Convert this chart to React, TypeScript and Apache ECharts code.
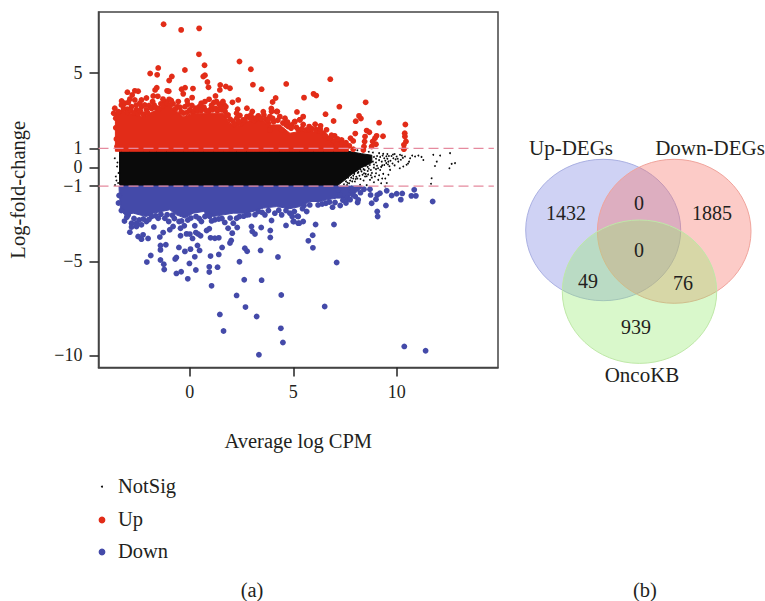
import React, { useEffect, useRef } from "react";
import * as echarts from "echarts";

const FONT = "'Liberation Serif', serif";
const INK = "#231f20";
const RED = "#e22c18";
const BLUE = "#444aa9";
const BLACK = "#0a0a0a";

const xTicks = [0, 5, 10];
const yTicks = [-10, -5, -1, 0, 1, 5];
const thresholds = [1, -1];
const legendNames = ["NotSig", "Up", "Down"];

// dense mass outlines: [averageLogCpm, upper, lower]
const upMass = [
  [-3.6, 2.9, 0.85], [-3.31, 3.05, 0.85], [-2.9, 2.87, 0.85], [-2.26, 2.69, 0.85], [-1.94, 2.87, 0.85],
  [-1.61, 3.05, 0.85], [-1.13, 3.31, 0.85], [-0.81, 3.14, 0.85], [-0.32, 2.69, 0.85], [0.16, 2.87, 0.85],
  [0.65, 2.87, 0.85], [1.13, 2.87, 0.85], [1.61, 2.87, 0.85], [1.94, 2.34, 0.85], [2.26, 2.16, 0.85],
  [2.74, 2.43, 0.85], [3.39, 2.6, 0.85], [3.87, 2.25, 0.85], [4.35, 2.25, 0.85], [4.84, 1.81, 0.85],
  [5.32, 1.9, 0.85], [5.97, 1.9, 0.85], [6.45, 1.77, 0.85], [6.94, 1.54, 0.85], [7.5, 1.28, 0.85],
  [7.66, 1.01, 0.85],
];
const notSigMass = [
  [-3.4, 0.9, -0.92], [-3.3, 0.95, -1], [7.1, 0.95, -1], [7.35, 0.9, -0.8], [7.8, 0.82, -0.4],
  [8.3, 0.72, -0.02], [8.8, 0.64, 0.25],
];
const downMass = [
  [-3.42, -1.0, -1.2], [-3.35, -1.0, -2.26], [-3.15, -1.0, -2.53], [-2.74, -1.0, -2.44], [-2.1, -1.0, -2.62],
  [-1.77, -1.0, -2.44], [-0.97, -1.0, -2.26], [-0.65, -1.0, -2.53], [-0.24, -1.0, -2.7], [0.16, -1.0, -2.44],
  [0.65, -1.0, -2.35], [1.13, -1.0, -2.62], [1.61, -1.0, -2.53], [2.1, -1.0, -2.44], [2.58, -1.0, -2.44],
  [3.06, -1.0, -2.35], [3.55, -1.0, -2.17], [4.19, -1.0, -2.09], [4.84, -1.0, -2.2], [5.32, -1.0, -2.09],
  [5.81, -1.0, -1.82], [6.29, -1.0, -1.82], [6.61, -1.0, -1.73], [7.1, -1.0, -1.64], [7.58, -1.0, -1.64],
  [7.98, -1.0, -1.38], [8.31, -1.0, -1.1],
];

const upPoints = [
  [-1.27, 7.6], [-0.42, 7.3], [0.45, 7.38], [0.44, 6.0], [0.71, 5.42], [2.4, 5.62], [2.95, 5.21], [-1.53, 5.28],
  [-1.92, 4.98], [-1.58, 4.91], [-0.24, 5.17], [0.73, 4.89], [0.65, 4.82], [-0.87, 4.82], [-1.0, 4.61], [0.85, 4.53],
  [0.9, 4.25], [3.05, 4.39], [3.47, 4.15], [4.66, 4.43], [1.47, 4.37], [1.45, 4.11], [1.74, 4.29], [1.94, 4.2],
  [-1.6, 4.23], [-1.68, 4.11], [-1.1, 4.06], [-1.02, 4.04], [-0.23, 4.23], [-0.4, 4.15], [-0.32, 3.9], [0.15, 4.18],
  [-3.02, 3.99], [-2.79, 3.84], [-2.66, 4.06], [-2.5, 4.04], [-1.77, 3.79], [-1.55, 3.77], [-2.1, 3.68], [-2.34, 3.58],
  [-2.66, 3.58], [-2.42, 3.4], [-1.0, 3.61], [0.11, 3.7], [-0.13, 3.54], [0.93, 3.61], [0.73, 3.49], [1.24, 3.79],
  [1.29, 3.49], [2.34, 3.58], [2.06, 3.45], [4.15, 3.68], [4.0, 3.47], [2.76, 3.14], [3.02, 2.96], [3.94, 3.12],
  [4.19, 2.96], [5.18, 2.94], [6.79, 4.68], [5.52, 3.7], [5.98, 3.9], [6.11, 3.81], [7.23, 3.22], [8.5, 3.45],
  [6.56, 2.82], [5.48, 2.69], [5.32, 2.52], [5.06, 2.41], [5.48, 2.27], [6.95, 2.46], [8.18, 2.73], [8.27, 2.59],
  [8.02, 2.45], [9.15, 2.37], [10.42, 2.27], [10.39, 1.81], [10.4, 1.63], [10.45, 1.37], [10.35, 1.19], [10.35, 0.96],
  [8.55, 1.95], [8.68, 1.86], [9.03, 1.67], [9.34, 1.65], [8.95, 1.54], [8.47, 1.63], [8.45, 1.37], [8.42, 1.1],
  [8.39, 0.92], [8.0, 1.79], [7.77, 1.54], [7.9, 1.4], [7.71, 1.14], [7.9, 0.96], [8.84, 1.37], [9.0, 1.22], [8.79, 1.1],
  [-3.63, 3.14], [-3.68, 2.87], [-3.58, 2.61], [-3.31, 3.31], [-3.15, 3.4], [-2.98, 3.44], [-2.82, 3.22],
  [-3.03, 3.08], [-2.58, 3.05], [-2.34, 3.22], [-2.18, 3.31], [-1.97, 3.28], [-1.73, 3.31], [-1.4, 3.37], [-1.21, 3.49],
  [-0.81, 3.37], [-0.56, 3.49], [-0.48, 3.19], [-0.24, 3.22], [0.0, 3.05], [0.29, 3.14], [0.45, 3.22], [0.68, 3.19],
  [1.02, 3.1], [1.16, 3.44], [1.42, 3.35], [1.66, 3.31], [1.74, 3.22], [1.53, 3.05], [1.85, 2.78], [2.31, 3.08],
  [2.26, 2.87], [2.27, 2.61], [2.26, 2.3], [2.5, 2.34], [2.76, 2.69], [3.06, 2.61], [3.31, 2.73], [3.58, 2.78],
  [3.87, 2.69], [3.95, 2.96], [4.23, 2.96], [4.35, 2.69], [4.6, 2.61], [3.79, 2.34], [3.87, 1.98], [4.76, 2.16],
  [5.08, 2.43], [5.32, 2.52], [4.44, 1.98], [5.77, 2.16], [6.06, 2.29], [6.32, 2.2], [6.61, 1.99], [6.19, 1.95],
  [6.45, 1.81], [6.77, 1.54], [7.0, 1.67], [7.0, 1.37], [7.34, 1.45], [7.26, 1.1], [7.42, 1.28], [6.69, 1.28],
  [7.1, 1.19], [4.92, 2.25], [5.24, 1.99], [-3.55, 1.5], [-3.52, 1.1], [-3.58, 2.1],
  [-3.45, 2.95], [-3.2, 3.12], [-3.0, 2.92], [-2.85, 3.02], [-2.7, 2.88], [-2.5, 2.85], [-2.4, 3.0], [-2.25, 2.82],
  [-2.1, 3.05], [-2.05, 2.9], [-1.85, 3.12], [-1.65, 3.18], [-1.5, 3.12], [-1.3, 3.28], [-1.1, 3.4], [-0.95, 3.3],
  [-0.7, 3.1], [-0.6, 3.22], [-0.42, 2.95], [-0.3, 2.88], [-0.12, 2.92], [0.08, 2.98], [0.2, 2.98], [0.38, 3.0],
  [0.55, 3.02], [0.8, 3.0], [0.92, 2.98], [1.1, 3.05], [1.25, 3.12], [1.33, 3.0], [1.48, 3.2], [1.7, 2.98],
  [1.78, 2.75], [1.95, 2.55], [2.08, 2.45], [2.15, 2.28], [2.38, 2.42], [2.58, 2.52], [2.66, 2.5], [2.9, 2.62],
  [3.12, 2.48], [3.22, 2.62], [3.45, 2.58], [3.68, 2.55], [3.78, 2.5], [4.05, 2.42], [4.25, 2.5], [4.5, 2.35],
  [4.66, 2.25], [4.9, 2.08], [5.15, 2.12], [5.42, 2.05], [5.62, 1.98], [5.9, 2.05], [6.1, 2.0], [6.3, 1.92],
  [6.55, 1.68], [6.85, 1.7], [7.15, 1.5], [7.35, 1.22], [7.52, 1.08], [7.55, 1.3], [6.3, 2.05], [5.75, 2.02],
  [4.0, 2.6], [4.72, 2.4], [3.55, 2.95], [2.95, 2.78], [2.42, 2.75], [1.05, 3.3], [0.1, 3.28], [-0.9, 3.55],
  [-1.8, 3.5], [-2.6, 3.3], [-3.3, 3.52], [-2.9, 3.62], [-1.3, 3.62], [-0.1, 3.35], [0.55, 3.4], [1.6, 3.5],
];

const downPoints = [
  [-3.16, -2.86], [-2.9, -3.45], [-1.74, -3.17], [-2.5, -3.68], [-2.34, -3.82], [-2.26, -3.59], [-2.02, -3.78],
  [-1.45, -3.71], [-1.29, -3.47], [-1.16, -4.12], [-1.42, -4.16], [-1.42, -4.39], [-1.89, -4.69], [-2.08, -5.04],
  [-1.42, -4.93], [-1.26, -5.15], [-1.24, -5.43], [-0.65, -4.79], [-0.71, -4.88], [-0.53, -4.26], [-0.24, -4.47],
  [0.03, -4.35], [-0.45, -3.64], [-0.16, -3.54], [0.0, -3.55], [0.13, -3.78], [0.29, -3.47], [0.4, -3.55], [0.52, -3.64],
  [0.37, -4.16], [0.47, -4.42], [0.24, -4.76], [-0.02, -5.11], [0.29, -5.46], [-0.42, -5.55], [-0.65, -5.64], [-0.1, -5.93],
  [0.94, -5.29], [0.94, -5.57], [1.34, -5.31], [1.0, -4.72], [1.4, -4.63], [1.56, -4.26], [1.94, -4.03], [2.0, -3.89],
  [1.05, -6.3], [1.0, -3.75], [1.21, -3.77], [1.4, -3.75], [0.81, -3.36], [0.94, -3.27], [2.05, -3.5], [2.29, -3.2],
  [2.66, -4.3], [2.77, -4.46], [3.42, -4.42], [2.4, -5.02], [2.63, -5.98], [3.47, -6.0], [2.26, -6.81], [2.69, -7.43],
  [4.42, -6.79], [4.26, -4.77], [3.89, -3.36], [3.89, -3.73], [2.98, -3.15], [3.02, -3.41], [3.15, -3.55], [3.45, -3.2],
  [1.45, -7.82], [3.23, -7.93], [1.63, -8.7], [4.4, -8.56], [4.5, -9.31], [3.34, -9.96], [3.95, -2.83], [4.65, -3.09],
  [5.0, -2.88], [5.24, -2.97], [5.52, -2.03], [5.65, -2.35], [5.21, -2.6], [5.03, -2.88], [5.29, -2.97], [5.48, -2.88],
  [6.08, -3.04], [6.97, -3.04], [5.94, -3.61], [5.73, -3.91], [5.95, -4.28], [7.1, -5.06], [6.52, -7.4], [10.37, -9.52],
  [11.4, -9.75], [11.74, -1.82], [9.48, -2.03], [9.06, -2.35], [9.08, -2.62], [8.79, -1.91], [8.14, -1.73], [8.11, -1.87],
  [6.9, -2.12], [7.27, -2.03], [7.02, -1.87], [6.58, -1.91], [10.2, -1.72], [10.71, -1.52], [10.93, -1.52], [9.76, -1.5],
  [10.0, -1.41], [10.27, -1.39], [9.06, -1.47], [9.0, -1.7], [8.74, -1.47], [9.19, -1.38], [9.52, -1.25], [10.85, -1.2],
  [8.71, -1.17], [8.42, -1.17], [7.82, -1.29], [7.9, -1.47], [7.61, -1.64], [7.26, -1.47], [7.18, -1.2], [-3.31, -2.3],
  [-2.98, -2.53], [-2.82, -2.97], [-2.58, -2.97], [-2.34, -3.06], [-2.1, -2.88], [-1.85, -2.62], [-2.58, -3.15],
  [-2.82, -3.18], [-1.53, -2.71], [-1.21, -2.71], [-0.97, -3.32], [-0.81, -3.15], [-1.02, -2.88], [-0.52, -2.88],
  [-0.27, -3.11], [-0.45, -3.24], [0.24, -3.11], [0.56, -2.88], [0.73, -2.62], [0.84, -2.49], [1.21, -2.79], [1.69, -2.93],
  [1.85, -3.24], [2.1, -2.97], [2.26, -2.71], [2.74, -2.53], [3.31, -2.35], [3.63, -2.53], [4.11, -2.44], [4.44, -2.53],
  [4.84, -2.44], [5.24, -2.62], [-3.42, -1.5], [-3.45, -1.9],
  [-3.05, -2.65], [-2.7, -2.72], [-2.45, -2.8], [-2.25, -2.75], [-1.98, -2.78], [-1.65, -2.58], [-1.4, -2.5], [-1.1, -2.52],
  [-0.85, -2.55], [-0.75, -2.72], [-0.4, -2.85], [-0.1, -2.8], [0.05, -2.7], [0.3, -2.62], [0.45, -2.72], [0.95, -2.6],
  [1.05, -2.85], [1.4, -2.75], [1.55, -2.72], [1.95, -2.7], [2.4, -2.62], [2.6, -2.6], [2.85, -2.52], [3.15, -2.52],
  [3.5, -2.4], [3.8, -2.3], [4.3, -2.28], [4.65, -2.3], [5.05, -2.35], [5.45, -2.2], [5.8, -2.0], [6.2, -2.0],
  [6.4, -1.95], [6.75, -1.85], [7.4, -1.75], [7.75, -1.72], [8.0, -1.55], [8.25, -1.35], [7.55, -1.9], [4.95, -2.62],
];

const notSigPoints = [
  [11.77, 0.66], [12.1, 0.62], [12.58, 0.75], [12.82, 0.22], [12.66, 0.18], [12.55, -0.05], [11.94, 0.3], [11.85, 0.07],
  [11.69, -0.58], [11.66, -0.88], [11.29, 0.39], [11.05, 0.62], [10.89, 0.57], [10.65, 0.48], [10.4, 0.57], [10.16, 0.66],
  [10.0, 0.57], [9.84, 0.48], [10.48, 0.13], [10.32, 0.04], [10.08, 0.3], [9.68, -0.14], [9.6, -0.4], [9.52, -0.84],
  [9.44, -1.02], [9.11, -0.67], [8.95, -0.49], [8.71, -0.67], [8.47, -0.49], [8.23, -0.93], [7.98, -0.76], [7.82, -1.02],
  [-3.63, 0.48], [-3.52, 0.04], [-3.58, -0.49], [-3.47, -0.84], [-3.45, -0.3], [-3.55, -0.7], [-3.5, 0.25], [-3.62, -0.95],
  [9.8, 0.2], [9.9, 0.1], [10.2, 0.4], [10.6, 0.3], [10.75, 0.62], [9.3, 0.1], [9.2, -0.15], [9.0, -0.1], [8.8, -0.3],
  [8.6, -0.2], [8.4, -0.7], [8.2, -0.45], [8.1, -0.6], [9.35, -0.35], [9.45, -0.6], [9.25, -0.85], [8.9, -0.8], [8.55, -0.95],
  [9.7, 0.35], [9.95, 0.42], [10.3, 0.5], [11.2, 0.55], [10.55, 0.2], [10.15, -0.05],
  [7.8, -0.55], [7.9, -0.45], [7.7, -0.85], [7.6, -0.95], [8.05, -0.5], [8.15, -0.25], [8.3, -0.22], [8.35, -0.4],
  [8.5, -0.35], [8.65, -0.08], [8.75, -0.15], [8.9, -0.02], [9.05, 0.08], [9.1, -0.05], [9.25, 0.02], [9.4, 0.12],
  [9.5, 0.22], [9.58, 0.15], [9.65, 0.05], [9.75, 0.6], [9.82, 0.68], [9.55, 0.7], [9.35, 0.72], [9.15, 0.75],
  [8.85, 0.78], [8.65, 0.82], [8.35, 0.88], [8.1, 0.9], [7.85, 0.92], [9.9, 0.7], [10.05, 0.45], [10.25, 0.62],
  [8.0, -0.2], [7.95, -0.35], [8.45, -0.15], [8.55, -0.48], [8.8, -0.55], [9.0, -0.32], [9.15, -0.42], [9.3, -0.6],
  [8.9, 0.55], [9.0, 0.45], [9.05, 0.6], [9.15, 0.38], [9.2, 0.55], [9.28, 0.3], [9.32, 0.62], [9.4, 0.48], [9.45, 0.35],
  [9.5, 0.58], [9.55, 0.45], [9.6, 0.3], [9.62, 0.6], [8.85, 0.3], [8.9, 0.15], [9.0, 0.25], [8.7, 0.12], [8.6, 0.02],
  [8.5, 0.08], [8.4, -0.1], [8.25, -0.12], [8.12, -0.3], [7.9, -0.6], [7.75, -0.7], [7.65, -0.55], [7.55, -0.75],
  [7.45, -0.9], [7.62, -0.82], [7.85, -0.75], [8.02, -0.62], [8.25, -0.62], [8.42, -0.32], [8.62, -0.38], [8.75, -0.42],
];

const vennCounts = ["1432", "1885", "0", "0", "49", "76", "939"];
const vennNames = ["Up-DEGs", "Down-DEGs", "OncoKB"];

const polygonRenderer = (rows: number[][], color: string) => (params: any, api: any) => {
  if (params.dataIndex !== 0) return null;
  const upper = rows.map((r) => api.coord([r[0], r[1]]));
  const lower = rows.map((r) => api.coord([r[0], r[2]])).reverse();
  return { type: "polygon", shape: { points: upper.concat(lower) }, style: { fill: color, stroke: color, lineWidth: 1 } };
};

const massSeries = (name: string, rows: number[][], color: string, z: number) => ({
  name,
  type: "custom",
  data: rows,
  z,
  silent: true,
  encode: { x: 0, y: [1, 2] },
  renderItem: polygonRenderer(rows, color),
});

const text = (t: string, x: number, y: number, align = "center", fontSize = 20.5) => ({
  type: "text",
  x,
  y,
  silent: true,
  z: 20,
  style: { text: t, fill: INK, font: `${fontSize}px ${FONT}`, textAlign: align, textVerticalAlign: "middle" },
});

const venn = (cx: number, cy: number, rx: number, ry: number, fill: string, stroke: string) => ({
  type: "ellipse",
  shape: { cx, cy, rx, ry },
  silent: true,
  z: 10,
  style: { fill, stroke, lineWidth: 1 },
});

export default function App() {
  const ref = useRef<HTMLDivElement>(null);
  useEffect(() => {
    const chart = echarts.init(ref.current!, undefined, { renderer: "svg" });
    chart.setOption({
      animation: false,
      backgroundColor: "#fff",
      grid: {
        left: 98.5, top: 12, width: 399.5, height: 355.5, show: true, borderColor: "#444", borderWidth: 1.5,
        backgroundColor: "transparent", outerBoundsMode: "none",
      },
      xAxis: {
        type: "value", min: -4.417, max: 14.9, name: "Average log CPM", nameLocation: "middle", nameGap: 63,
        nameTextStyle: { fontFamily: FONT, fontSize: 20.5, color: INK },
        axisLine: { show: true, onZero: false, lineStyle: { color: "#444", width: 1.5 } },
        axisTick: { show: true, length: 9, customValues: xTicks, lineStyle: { color: "#222", width: 1.5 } },
        axisLabel: { customValues: xTicks, margin: 15, fontFamily: FONT, fontSize: 18, color: INK },
        splitLine: { show: false },
      },
      yAxis: {
        type: "value", min: -10.64, max: 8.25, name: "Log-fold-change", nameLocation: "middle", nameGap: 70,
        nameTextStyle: { fontFamily: FONT, fontSize: 20.5, color: INK },
        axisLine: { show: true, onZero: false, lineStyle: { color: "#444", width: 1.5 } },
        axisTick: { show: true, length: 9, customValues: yTicks, lineStyle: { color: "#222", width: 1.5 } },
        axisLabel: { customValues: yTicks, margin: 16, fontFamily: FONT, fontSize: 18, lineHeight: 17, color: INK, formatter: (v: number) => String(v).replace("-", "\u2212") },
        splitLine: { show: false },
      },
      series: [
        massSeries("NotSig mass", notSigMass, BLACK, 2),
        { name: "NotSig", type: "scatter", data: notSigPoints, symbolSize: 1.8, itemStyle: { color: BLACK, opacity: 1 }, z: 2, silent: true },
        massSeries("Up mass", upMass, RED, 3),
        { name: "Up", type: "scatter", data: upPoints, symbolSize: 5.8, itemStyle: { color: RED, opacity: 1 }, z: 3, silent: true },
        massSeries("Down mass", downMass, BLUE, 3),
        { name: "Down", type: "scatter", data: downPoints, symbolSize: 5.8, itemStyle: { color: BLUE, opacity: 1 }, z: 3, silent: true },
        ...thresholds.map((t) => ({
          name: `threshold ${t}`, type: "line", data: [[-4.417, t], [14.7, t]], symbol: "none", z: 5, silent: true,
          lineStyle: { color: "#e58a9e", width: 1.2, type: [10, 5] },
        })),
      ],
      graphic: [
        { type: "circle", shape: { cx: 102, cy: 486.7, r: 1 }, style: { fill: BLACK }, silent: true },
        { type: "circle", shape: { cx: 102, cy: 520, r: 3.4 }, style: { fill: RED }, silent: true },
        { type: "circle", shape: { cx: 102, cy: 552, r: 3.4 }, style: { fill: BLUE }, silent: true },
        text(legendNames[0], 118, 486, "left"),
        text(legendNames[1], 118, 519, "left"),
        text(legendNames[2], 118, 551, "left"),
        text("(a)", 252, 590),
        text("(b)", 645, 590),
        venn(603.2, 230, 77.5, 70.7, "rgba(105,115,220,0.32)", "#aab0e2"),
        venn(674.2, 231.3, 76.8, 72, "rgba(248,110,100,0.36)", "#f0a49c"),
        venn(639.5, 291.7, 77.2, 71.7, "rgba(150,235,110,0.36)", "#bfe8a8"),
        text(vennNames[0], 571, 148, "center", 21),
        text(vennNames[1], 710, 148, "center", 21),
        text(vennNames[2], 642, 375, "center", 21),
        text(vennCounts[0], 566, 213, "center", 20),
        text(vennCounts[1], 712, 213, "center", 20),
        text(vennCounts[2], 639, 203, "center", 20),
        text(vennCounts[3], 639, 250, "center", 20),
        text(vennCounts[4], 588, 281, "center", 20),
        text(vennCounts[5], 683, 283, "center", 20),
        text(vennCounts[6], 636, 327, "center", 20),
      ],
    });
    return () => chart.dispose();
  }, []);
  return <div ref={ref} style={{ position: "fixed", left: 0, top: 0, width: 765, height: 601 }} />;
}
